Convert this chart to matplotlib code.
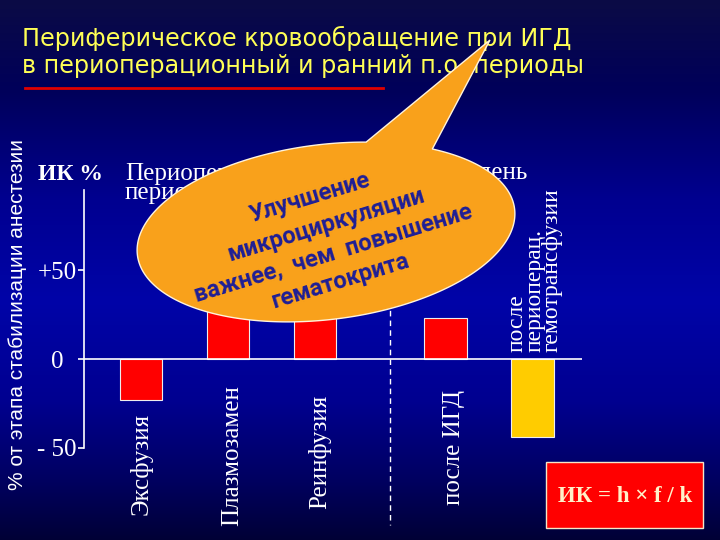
import matplotlib.pyplot as plt
import matplotlib.transforms as mtransforms
import numpy as np
from matplotlib.patches import Polygon, Rectangle

categories = ["Эксфузия", "Плазмозамен", "Реинфузия", "после ИГД",
              "после\nпериоперац.\nгемотрансфузии"]
values = [-23, 40, 30, 23, -44]
x_pos = [0, 1, 2, 3.5, 4.5]
bar_colors = ["#ff0000", "#ff0000", "#ff0000", "#ff0000", "#ffcc00"]
yticks = [-50, 0, 50]
ytick_labels = ["- 50", "0", "+50"]

title1 = "Периферическое кровообращение при ИГД"
title2 = "в периоперационный и ранний п.о. периоды"
bubble_lines = ["Улучшение", "микроциркуляции", "важнее,  чем  повышение", "гематокрита"]

fig = plt.figure(figsize=(7.2, 5.4), dpi=100)

# background (pixel coordinates)
bg = fig.add_axes([0, 0, 1, 1], zorder=0)
stops_y = [0, 90, 200, 300, 400, 480, 540]
stops_c = np.array([[0x0b, 0x0b, 0x45], [0x00, 0x00, 0x5a], [0x00, 0x00, 0x90],
                    [0x00, 0x04, 0xa8], [0x00, 0x00, 0x90], [0x00, 0x00, 0x60],
                    [0x00, 0x00, 0x35]]) / 255
rows = np.arange(540)
grad = np.stack([np.interp(rows, stops_y, stops_c[:, k]) for k in range(3)], axis=1)
img = np.repeat(grad[:, None, :], 2, axis=1)
bg.imshow(img, extent=(0, 720, 540, 0), aspect="auto", interpolation="bilinear")
bg.set_xlim(0, 720)
bg.set_ylim(540, 0)
bg.axis("off")

bg.text(22, 38, title1, color="#ffff55", fontsize=17.2, va="center", family="DejaVu Sans")
bg.text(22, 66, title2, color="#ffff55", fontsize=17.2, va="center", family="DejaVu Sans")
bg.plot([25, 383], [88, 88], color="#e00000", lw=2)

bg.text(18, 315, "% от этапа стабилизации анестезии", rotation=90, color="white",
        fontsize=15, family="Liberation Sans", ha="center", va="center")
bg.text(38, 175, "ИК %", color="white", fontsize=17, fontweight="bold",
        family="Liberation Serif", va="center")
bg.text(125, 183, "Периоперационный\nпериод", color="white", fontsize=18,
        family="Liberation Serif", va="center", linespacing=0.8)
bg.text(527, 173, "1-й п/о день", color="white", fontsize=18,
        family="Liberation Serif", va="center", ha="right")

bg.add_patch(Rectangle((546, 462), 157, 66, facecolor="#ff0000", edgecolor="#f5e6c8", lw=1))
bg.text(625, 497, "ИК = h × f / k", color="#fff0c8", fontsize=16.5, fontweight="bold",
        family="Liberation Serif", ha="center", va="center")

# chart
ax = fig.add_axes([84 / 720, 92 / 540, 498 / 720, 258 / 540], zorder=2)
ax.patch.set_alpha(0)
ax.bar(x_pos, values, width=0.49, color=bar_colors, edgecolor="#eeeeee", linewidth=0.8, zorder=2)
ax.axhline(0, color="white", lw=1.2, zorder=3)
ax.plot([2.86, 2.86], [60, -93], color="white", ls=(0, (4, 3)), lw=1, clip_on=False, zorder=1)
ax.set_xlim(-0.655, 5.07)
ax.set_ylim(-50, 95)
for s in ["top", "right", "bottom"]:
    ax.spines[s].set_visible(False)
ax.spines["left"].set_color("white")
ax.spines["left"].set_linewidth(1.2)
ax.spines["left"].set_bounds(-50, 95)
ax.set_xticks([])
ax.set_yticks(yticks, ytick_labels)
ax.tick_params(axis="y", colors="white", length=4.5, width=1.2, pad=15, labelsize=18)
for lbl in ax.get_yticklabels():
    lbl.set_family("Liberation Serif")
    lbl.set_ha("center")

blend = mtransforms.blended_transform_factory(ax.transData, bg.transData)
label_y = [464, 456, 452, 447]
label_dx = [0.0, 0.05, 0.05, 0.1]
for i in range(4):
    ax.text(x_pos[i] + label_dx[i], label_y[i], categories[i], transform=blend, rotation=90,
            ha="center", va="center", color="white", fontsize=18, family="Liberation Serif")
ax.text(x_pos[4] + 0.03, 352, categories[4], transform=blend, rotation=90, ha="center",
        va="bottom", multialignment="left", linespacing=0.78, color="white", fontsize=17,
        family="Liberation Serif")

# speech bubble
top = fig.add_axes([0, 0, 1, 1], zorder=5)
top.patch.set_alpha(0)
top.set_xlim(0, 720)
top.set_ylim(540, 0)
top.axis("off")
cx, cy, a, b, phi = 326, 232, 190, 87.5, np.deg2rad(-7)
t = np.linspace(0, 2 * np.pi, 720, endpoint=False)
ex = cx + a * np.cos(t) * np.cos(phi) - b * np.sin(t) * np.sin(phi)
ey = cy + a * np.cos(t) * np.sin(phi) + b * np.sin(t) * np.cos(phi)
pts = np.column_stack([ex, ey])
gap = (ey < cy) & (ex > 367) & (ex < 432)
idx = np.where(gap)[0]
shift = -(idx[-1] + 1)
pts = np.roll(pts, shift, axis=0)
gap = np.roll(gap, shift)
pts = np.vstack([pts[~gap], [[490, 40]]])
top.add_patch(Polygon(pts, closed=True, facecolor="#f9a11b", edgecolor="#fff4dc", lw=1))

centers = [(310, 198), (326, 225), (333, 253), (341, 281)]
for line, (px, py) in zip(bubble_lines, centers):
    top.text(px, py, line, rotation=17, rotation_mode="anchor", ha="center", va="center",
             color="#1e1e96", fontsize=17, fontweight="bold", family="Roboto")

fig.savefig("out.png", dpi=100)
